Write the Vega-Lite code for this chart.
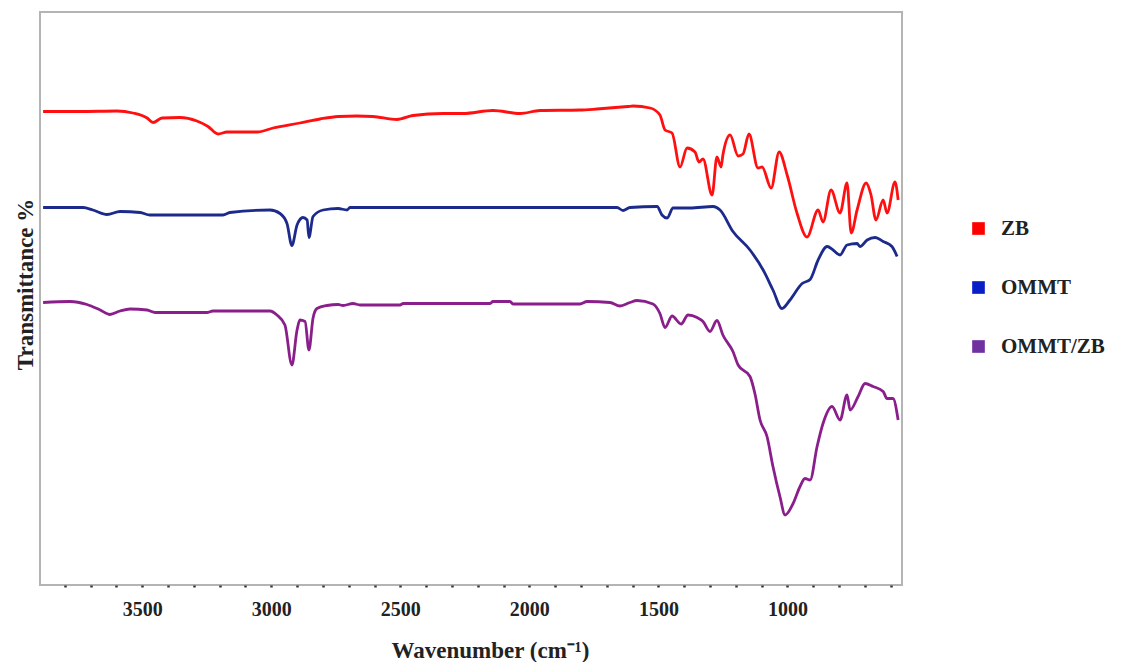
{
  "$schema": "https://vega.github.io/schema/vega-lite/v6.json",
  "width": 862,
  "height": 573,
  "autosize": {"type": "none"},
  "padding": {"left": 40, "top": 12, "right": 224, "bottom": 77},
  "background": "white",
  "config": {
    "view": {"stroke": "#b4b4b4", "strokeWidth": 2},
    "font": "Liberation Serif"
  },
  "datasets": {
    "spectra": [
      {"s": "ZB", "wn": 3888, "t": 94.7}, {"s": "ZB", "wn": 3745, "t": 94.7}, {"s": "ZB", "wn": 3602, "t": 94.8},
      {"s": "ZB", "wn": 3540, "t": 94.4}, {"s": "ZB", "wn": 3485, "t": 93.4}, {"s": "ZB", "wn": 3462, "t": 92.5},
      {"s": "ZB", "wn": 3427, "t": 93.4}, {"s": "ZB", "wn": 3358, "t": 93.5}, {"s": "ZB", "wn": 3292, "t": 92.8},
      {"s": "ZB", "wn": 3249, "t": 91.7}, {"s": "ZB", "wn": 3210, "t": 90.2}, {"s": "ZB", "wn": 3175, "t": 90.6},
      {"s": "ZB", "wn": 3059, "t": 90.6}, {"s": "ZB", "wn": 2997, "t": 91.4}, {"s": "ZB", "wn": 2893, "t": 92.4},
      {"s": "ZB", "wn": 2815, "t": 93.2}, {"s": "ZB", "wn": 2745, "t": 93.7}, {"s": "ZB", "wn": 2672, "t": 93.8},
      {"s": "ZB", "wn": 2610, "t": 93.7}, {"s": "ZB", "wn": 2517, "t": 93.1}, {"s": "ZB", "wn": 2455, "t": 93.9},
      {"s": "ZB", "wn": 2339, "t": 94.3}, {"s": "ZB", "wn": 2261, "t": 94.3}, {"s": "ZB", "wn": 2145, "t": 94.9},
      {"s": "ZB", "wn": 2040, "t": 94.3}, {"s": "ZB", "wn": 1963, "t": 94.9}, {"s": "ZB", "wn": 1808, "t": 95.0},
      {"s": "ZB", "wn": 1742, "t": 95.2}, {"s": "ZB", "wn": 1622, "t": 95.7}, {"s": "ZB", "wn": 1602, "t": 95.8},
      {"s": "ZB", "wn": 1536, "t": 95.4}, {"s": "ZB", "wn": 1498, "t": 94.0}, {"s": "ZB", "wn": 1478, "t": 91.0},
      {"s": "ZB", "wn": 1451, "t": 90.4}, {"s": "ZB", "wn": 1420, "t": 83.6}, {"s": "ZB", "wn": 1393, "t": 87.4},
      {"s": "ZB", "wn": 1362, "t": 86.6}, {"s": "ZB", "wn": 1347, "t": 84.6}, {"s": "ZB", "wn": 1331, "t": 85.2},
      {"s": "ZB", "wn": 1296, "t": 78.0}, {"s": "ZB", "wn": 1277, "t": 85.6}, {"s": "ZB", "wn": 1261, "t": 83.6},
      {"s": "ZB", "wn": 1254, "t": 86.0}, {"s": "ZB", "wn": 1226, "t": 90.0}, {"s": "ZB", "wn": 1195, "t": 85.8},
      {"s": "ZB", "wn": 1176, "t": 86.2}, {"s": "ZB", "wn": 1153, "t": 90.2}, {"s": "ZB", "wn": 1118, "t": 83.4},
      {"s": "ZB", "wn": 1102, "t": 83.6}, {"s": "ZB", "wn": 1067, "t": 79.4}, {"s": "ZB", "wn": 1036, "t": 86.6},
      {"s": "ZB", "wn": 1005, "t": 82.0}, {"s": "ZB", "wn": 967, "t": 74.4}, {"s": "ZB", "wn": 928, "t": 69.6},
      {"s": "ZB", "wn": 885, "t": 75.0}, {"s": "ZB", "wn": 866, "t": 72.6}, {"s": "ZB", "wn": 835, "t": 79.0},
      {"s": "ZB", "wn": 800, "t": 74.4}, {"s": "ZB", "wn": 773, "t": 80.4}, {"s": "ZB", "wn": 757, "t": 70.4},
      {"s": "ZB", "wn": 734, "t": 75.0}, {"s": "ZB", "wn": 699, "t": 80.4}, {"s": "ZB", "wn": 680, "t": 78.0},
      {"s": "ZB", "wn": 661, "t": 73.0}, {"s": "ZB", "wn": 633, "t": 77.0}, {"s": "ZB", "wn": 618, "t": 74.4},
      {"s": "ZB", "wn": 587, "t": 80.6}, {"s": "ZB", "wn": 575, "t": 77.0},

      {"s": "OMMT", "wn": 3888, "t": 75.5}, {"s": "OMMT", "wn": 3733, "t": 75.5}, {"s": "OMMT", "wn": 3695, "t": 75.0},
      {"s": "OMMT", "wn": 3640, "t": 74.1}, {"s": "OMMT", "wn": 3590, "t": 74.7}, {"s": "OMMT", "wn": 3512, "t": 74.5},
      {"s": "OMMT", "wn": 3474, "t": 74.0}, {"s": "OMMT", "wn": 3191, "t": 74.0}, {"s": "OMMT", "wn": 3164, "t": 74.5},
      {"s": "OMMT", "wn": 3009, "t": 75.0}, {"s": "OMMT", "wn": 2970, "t": 74.3}, {"s": "OMMT", "wn": 2943, "t": 72.3},
      {"s": "OMMT", "wn": 2924, "t": 67.9}, {"s": "OMMT", "wn": 2904, "t": 72.0}, {"s": "OMMT", "wn": 2881, "t": 73.5},
      {"s": "OMMT", "wn": 2865, "t": 73.0}, {"s": "OMMT", "wn": 2858, "t": 69.5}, {"s": "OMMT", "wn": 2842, "t": 73.7},
      {"s": "OMMT", "wn": 2803, "t": 75.0}, {"s": "OMMT", "wn": 2745, "t": 75.3}, {"s": "OMMT", "wn": 2710, "t": 75.0},
      {"s": "OMMT", "wn": 2699, "t": 75.5}, {"s": "OMMT", "wn": 1664, "t": 75.5}, {"s": "OMMT", "wn": 1641, "t": 74.9},
      {"s": "OMMT", "wn": 1614, "t": 75.5}, {"s": "OMMT", "wn": 1509, "t": 75.7}, {"s": "OMMT", "wn": 1490, "t": 74.0},
      {"s": "OMMT", "wn": 1470, "t": 73.4}, {"s": "OMMT", "wn": 1447, "t": 75.4}, {"s": "OMMT", "wn": 1381, "t": 75.4},
      {"s": "OMMT", "wn": 1292, "t": 75.7}, {"s": "OMMT", "wn": 1265, "t": 75.0}, {"s": "OMMT", "wn": 1215, "t": 70.7},
      {"s": "OMMT", "wn": 1149, "t": 67.0}, {"s": "OMMT", "wn": 1098, "t": 63.0}, {"s": "OMMT", "wn": 1060, "t": 59.0},
      {"s": "OMMT", "wn": 1025, "t": 55.3}, {"s": "OMMT", "wn": 994, "t": 57.0}, {"s": "OMMT", "wn": 947, "t": 60.3},
      {"s": "OMMT", "wn": 916, "t": 61.1}, {"s": "OMMT", "wn": 885, "t": 65.0}, {"s": "OMMT", "wn": 850, "t": 67.7},
      {"s": "OMMT", "wn": 827, "t": 67.0}, {"s": "OMMT", "wn": 800, "t": 66.0}, {"s": "OMMT", "wn": 773, "t": 68.0},
      {"s": "OMMT", "wn": 734, "t": 68.3}, {"s": "OMMT", "wn": 723, "t": 67.7}, {"s": "OMMT", "wn": 695, "t": 69.0},
      {"s": "OMMT", "wn": 664, "t": 69.5}, {"s": "OMMT", "wn": 633, "t": 68.7}, {"s": "OMMT", "wn": 599, "t": 67.7},
      {"s": "OMMT", "wn": 579, "t": 65.7},

      {"s": "OMMT/ZB", "wn": 3888, "t": 56.5}, {"s": "OMMT/ZB", "wn": 3784, "t": 56.7}, {"s": "OMMT/ZB", "wn": 3718, "t": 56.1},
      {"s": "OMMT/ZB", "wn": 3667, "t": 55.0}, {"s": "OMMT/ZB", "wn": 3629, "t": 54.1}, {"s": "OMMT/ZB", "wn": 3590, "t": 54.8},
      {"s": "OMMT/ZB", "wn": 3551, "t": 55.2}, {"s": "OMMT/ZB", "wn": 3485, "t": 55.0}, {"s": "OMMT/ZB", "wn": 3454, "t": 54.5},
      {"s": "OMMT/ZB", "wn": 3253, "t": 54.5}, {"s": "OMMT/ZB", "wn": 3230, "t": 54.8}, {"s": "OMMT/ZB", "wn": 3009, "t": 54.8},
      {"s": "OMMT/ZB", "wn": 2982, "t": 54.0}, {"s": "OMMT/ZB", "wn": 2951, "t": 52.0}, {"s": "OMMT/ZB", "wn": 2924, "t": 44.0},
      {"s": "OMMT/ZB", "wn": 2904, "t": 51.0}, {"s": "OMMT/ZB", "wn": 2893, "t": 53.0}, {"s": "OMMT/ZB", "wn": 2873, "t": 52.7},
      {"s": "OMMT/ZB", "wn": 2858, "t": 47.0}, {"s": "OMMT/ZB", "wn": 2842, "t": 53.4}, {"s": "OMMT/ZB", "wn": 2827, "t": 55.3},
      {"s": "OMMT/ZB", "wn": 2788, "t": 55.9}, {"s": "OMMT/ZB", "wn": 2745, "t": 56.1}, {"s": "OMMT/ZB", "wn": 2726, "t": 55.9},
      {"s": "OMMT/ZB", "wn": 2687, "t": 56.3}, {"s": "OMMT/ZB", "wn": 2660, "t": 56.0}, {"s": "OMMT/ZB", "wn": 2505, "t": 56.0},
      {"s": "OMMT/ZB", "wn": 2493, "t": 56.3}, {"s": "OMMT/ZB", "wn": 2156, "t": 56.3}, {"s": "OMMT/ZB", "wn": 2145, "t": 56.7},
      {"s": "OMMT/ZB", "wn": 2079, "t": 56.7}, {"s": "OMMT/ZB", "wn": 2067, "t": 56.2}, {"s": "OMMT/ZB", "wn": 1808, "t": 56.2},
      {"s": "OMMT/ZB", "wn": 1780, "t": 56.7}, {"s": "OMMT/ZB", "wn": 1691, "t": 56.5}, {"s": "OMMT/ZB", "wn": 1653, "t": 55.8},
      {"s": "OMMT/ZB", "wn": 1614, "t": 56.5}, {"s": "OMMT/ZB", "wn": 1587, "t": 56.9}, {"s": "OMMT/ZB", "wn": 1525, "t": 56.2},
      {"s": "OMMT/ZB", "wn": 1498, "t": 54.3}, {"s": "OMMT/ZB", "wn": 1478, "t": 51.5}, {"s": "OMMT/ZB", "wn": 1451, "t": 53.8},
      {"s": "OMMT/ZB", "wn": 1416, "t": 52.2}, {"s": "OMMT/ZB", "wn": 1389, "t": 54.0}, {"s": "OMMT/ZB", "wn": 1354, "t": 53.5},
      {"s": "OMMT/ZB", "wn": 1331, "t": 52.7}, {"s": "OMMT/ZB", "wn": 1304, "t": 50.7}, {"s": "OMMT/ZB", "wn": 1277, "t": 52.9},
      {"s": "OMMT/ZB", "wn": 1254, "t": 50.0}, {"s": "OMMT/ZB", "wn": 1215, "t": 46.7}, {"s": "OMMT/ZB", "wn": 1195, "t": 44.0},
      {"s": "OMMT/ZB", "wn": 1149, "t": 41.7}, {"s": "OMMT/ZB", "wn": 1130, "t": 38.3}, {"s": "OMMT/ZB", "wn": 1110, "t": 33.0},
      {"s": "OMMT/ZB", "wn": 1083, "t": 29.7}, {"s": "OMMT/ZB", "wn": 1060, "t": 23.7}, {"s": "OMMT/ZB", "wn": 1033, "t": 17.7},
      {"s": "OMMT/ZB", "wn": 1013, "t": 14.0}, {"s": "OMMT/ZB", "wn": 982, "t": 16.3}, {"s": "OMMT/ZB", "wn": 955, "t": 19.7},
      {"s": "OMMT/ZB", "wn": 936, "t": 21.3}, {"s": "OMMT/ZB", "wn": 916, "t": 21.0}, {"s": "OMMT/ZB", "wn": 889, "t": 27.7},
      {"s": "OMMT/ZB", "wn": 866, "t": 32.3}, {"s": "OMMT/ZB", "wn": 831, "t": 35.7}, {"s": "OMMT/ZB", "wn": 800, "t": 33.0},
      {"s": "OMMT/ZB", "wn": 773, "t": 38.0}, {"s": "OMMT/ZB", "wn": 761, "t": 35.0}, {"s": "OMMT/ZB", "wn": 730, "t": 37.7},
      {"s": "OMMT/ZB", "wn": 703, "t": 40.3}, {"s": "OMMT/ZB", "wn": 672, "t": 39.7}, {"s": "OMMT/ZB", "wn": 633, "t": 38.7},
      {"s": "OMMT/ZB", "wn": 618, "t": 37.3}, {"s": "OMMT/ZB", "wn": 595, "t": 37.3}, {"s": "OMMT/ZB", "wn": 575, "t": 33.0}
    ]
  },
  "data": {"name": "spectra"},
  "mark": {"type": "line", "strokeWidth": 2.8, "strokeJoin": "round", "interpolate": "monotone"},
  "encoding": {
    "x": {
      "field": "wn",
      "type": "quantitative",
      "scale": {"domain": [560, 3900], "reverse": true, "nice": false, "zero": false},
      "axis": {
        "values": [3800, 3700, 3600, 3500, 3400, 3300, 3200, 3100, 3000, 2900, 2800, 2700, 2600, 2500, 2400, 2300, 2200, 2100, 2000, 1900, 1800, 1700, 1600, 1500, 1400, 1300, 1200, 1100, 1000, 900, 800, 700, 600],
        "labelExpr": "datum.value % 500 === 0 ? datum.value : ''",
        "grid": false,
        "domain": false,
        "tickSize": 2,
        "tickWidth": 2.5,
        "tickColor": "#333333",
        "tickOffset": -1,
        "labelFont": "Liberation Serif",
        "labelFontWeight": "bold",
        "labelFontSize": 20,
        "labelColor": "#222222",
        "labelPadding": 12,
        "labelDx": 3,
        "title": "Wavenumber (cm⁻¹)",
        "titleFont": "Liberation Serif",
        "titleFontWeight": "bold",
        "titleFontSize": 23,
        "titleColor": "#222222",
        "titleX": 450,
        "titleY": 72,
        "titleAlign": "center",
        "titleBaseline": "alphabetic"
      }
    },
    "y": {
      "field": "t",
      "type": "quantitative",
      "scale": {"domain": [0, 114.6], "nice": false, "zero": false},
      "axis": {
        "domain": false,
        "ticks": false,
        "labels": false,
        "grid": false,
        "title": "Transmittance %",
        "titleFont": "Liberation Serif",
        "titleFontWeight": "bold",
        "titleFontSize": 23,
        "titleColor": "#222222",
        "titleAngle": -90,
        "titleX": -8,
        "titleY": 272,
        "titleAlign": "center",
        "titleBaseline": "alphabetic"
      }
    },
    "color": {
      "field": "s",
      "type": "nominal",
      "scale": {"domain": ["ZB", "OMMT", "OMMT/ZB"], "range": ["#ff1010", "#1c2a8c", "#8a1f8c"]},
      "legend": {
        "title": null,
        "orient": "none",
        "legendX": 928,
        "legendY": 206,
        "symbolType": "square",
        "symbolSize": 160,
        "symbolStrokeWidth": 0,
        "symbolOpacity": 1,
        "labelFont": "Liberation Serif",
        "labelFontWeight": "bold",
        "labelFontSize": 21,
        "labelColor": "#222222",
        "labelOffset": 12,
        "rowPadding": 37,
        "padding": 0,
        "encode": {
          "symbols": {
            "update": {
              "fill": {"signal": "datum.value === 'ZB' ? '#ff0000' : datum.value === 'OMMT' ? '#0a1ec8' : '#7030a0'"},
              "fillOpacity": {"value": 1}
            }
          }
        }
      }
    }
  }
}
